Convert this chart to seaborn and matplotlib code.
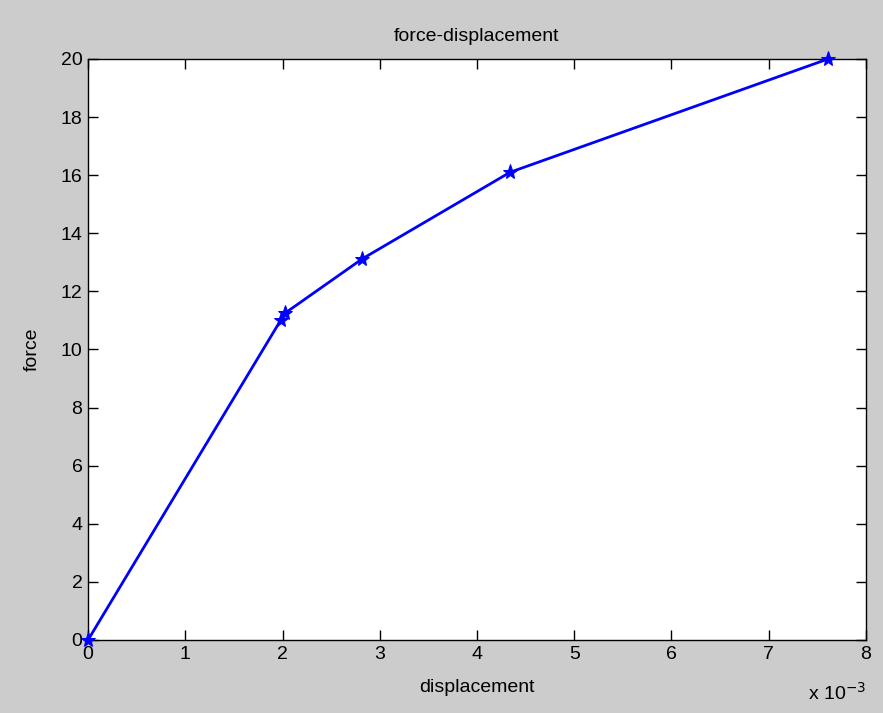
import numpy as np
import pandas as pd
import matplotlib
matplotlib.use('Agg')
import matplotlib.pyplot as plt
import seaborn as sns
from matplotlib.ticker import FuncFormatter

# values
displacement = [0.0, 0.00198, 0.00203, 0.00282, 0.00434, 0.00761]
force = [0.0, 11.0, 11.26, 13.12, 16.1, 20.0]

sns.set_style('ticks')
plt.rcParams['font.family'] = ['Liberation Sans Narrow', 'Liberation Sans', 'DejaVu Sans']
plt.rcParams['text.color'] = 'black'
plt.rcParams['axes.labelcolor'] = 'black'

df = pd.DataFrame({'displacement': displacement, 'force': force})

fig = plt.figure(figsize=(8.83, 7.13), dpi=100, facecolor='#cccccc')
ax = fig.add_axes([0.0997, 0.1024, 0.881, 0.8149])
ax.set_facecolor('white')

sns.lineplot(data=df, x='displacement', y='force', ax=ax, color='#0000ff',
             linewidth=2, marker='*', markersize=11, markeredgecolor='#0000ff',
             sort=False, estimator=None, clip_on=False, zorder=5)

ax.set_xlim(0, 0.008)
ax.set_ylim(0, 20)
ax.set_xticks(np.arange(0, 0.0081, 0.001))
ax.set_yticks(np.arange(0, 21, 2))
ax.xaxis.set_major_formatter(FuncFormatter(lambda v, p: '%g' % round(v * 1000, 6)))

ax.tick_params(direction='in', top=True, right=True, length=7, width=1,
               labelsize=14, colors='black', pad=4)
for s in ax.spines.values():
    s.set_visible(True)
    s.set_color('black')
    s.set_linewidth(1)

ax.set_xlabel('displacement', fontsize=14, labelpad=12, color='black')
ax.set_ylabel('force', fontsize=14, labelpad=14, color='black')
ax.set_title('force-displacement', fontsize=14, pad=13, color='black')
fig.text(0.915, 0.018, r'x 10$^{-3}$', fontsize=14, color='black')

fig.savefig('out.png', dpi=100, facecolor=fig.get_facecolor())
